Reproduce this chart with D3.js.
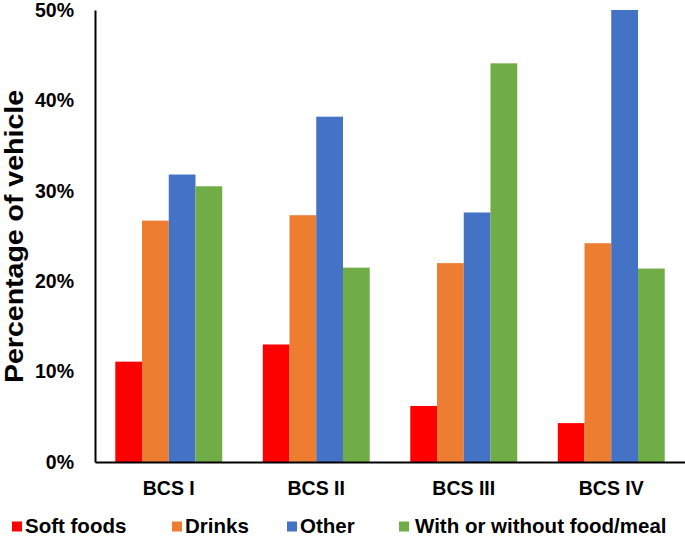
<!DOCTYPE html>
<html><head><meta charset="utf-8">
<script src="https://cdn.jsdelivr.net/npm/d3@7"></script>
<style>body{margin:0;background:#fff}svg{display:block}text{font-family:"Liberation Sans",Arial,sans-serif;font-weight:bold;fill:#000}</style>
</head><body>
<svg id="c" width="685" height="537"></svg>
<script>
const categories = ["BCS I", "BCS II", "BCS III", "BCS IV"];
const seriesNames = ["Soft foods", "Drinks", "Other", "With or without food/meal"];
const softFoods = [11.1, 13.0, 6.2, 4.3];
const drinks = [26.7, 27.3, 22.0, 24.2];
const other = [31.8, 38.2, 27.6, 50.0];
const withOrWithout = [30.5, 21.5, 44.1, 21.4];
const colors = ["#ff0000", "#ed7d31", "#4472c4", "#70ad47"];
const yTicks = [0, 10, 20, 30, 40, 50];

(function(){
const series = [softFoods, drinks, other, withOrWithout];
const svg = d3.select("#c");
const mLeft = 95, mRight = 685, mTop = 10, mBottom = 462;

const x = d3.scaleBand().domain(categories).range([mLeft, mRight]).paddingInner(0.275).paddingOuter(0.1375);
const x1 = d3.scaleBand().domain(seriesNames).range([0, x.bandwidth()]);
const y = d3.scaleLinear().domain([0, 50]).range([mBottom, mTop]);

const rows = categories.map((c, i) => ({cat: c, vals: series.map((s, j) => ({name: seriesNames[j], v: s[i], color: colors[j]}))}));

svg.append("g").selectAll("g").data(rows).join("g")
  .attr("transform", d => `translate(${x(d.cat)},0)`)
  .selectAll("rect").data(d => d.vals).join("rect")
  .attr("x", d => x1(d.name)).attr("width", x1.bandwidth())
  .attr("y", d => y(d.v)).attr("height", d => y(0) - y(d.v))
  .attr("fill", d => d.color);

const ya = svg.append("g").attr("transform", `translate(${mLeft},0)`)
  .call(d3.axisLeft(y).tickValues(yTicks).tickFormat(d => d + "%").tickSize(0).tickPadding(21));
ya.select(".domain").attr("stroke", "#000").attr("stroke-width", 2);
ya.selectAll("text").attr("font-size", 19.5).attr("font-family", "Liberation Sans, Arial, sans-serif").attr("font-weight", "bold").attr("fill", "#000");

const xa = svg.append("g").attr("transform", `translate(0,${mBottom})`)
  .call(d3.axisBottom(x).tickSize(0).tickPadding(19));
xa.select(".domain").attr("stroke", "#000").attr("stroke-width", 2);
xa.selectAll("text").attr("font-size", 19.5).attr("font-family", "Liberation Sans, Arial, sans-serif").attr("font-weight", "bold").attr("fill", "#000");

svg.append("text").attr("transform", "translate(23,236.5) rotate(-90)")
  .attr("text-anchor", "middle").attr("font-size", 26)
  .attr("textLength", 293).attr("lengthAdjust", "spacingAndGlyphs")
  .text("Percentage of vehicle");

const legX = [12, 172, 287, 399];
const lg = svg.append("g").selectAll("g").data(seriesNames).join("g")
  .attr("transform", (d, i) => `translate(${legX[i]},526.5)`);
lg.append("rect").attr("x", 0).attr("y", -5).attr("width", 10).attr("height", 10).attr("fill", (d, i) => colors[i]);
lg.append("text").attr("x", (d, i) => i === 3 ? 16 : 13).attr("y", 6.5).attr("font-size", 20.5).text(d => d);
})();
</script>
</body></html>
